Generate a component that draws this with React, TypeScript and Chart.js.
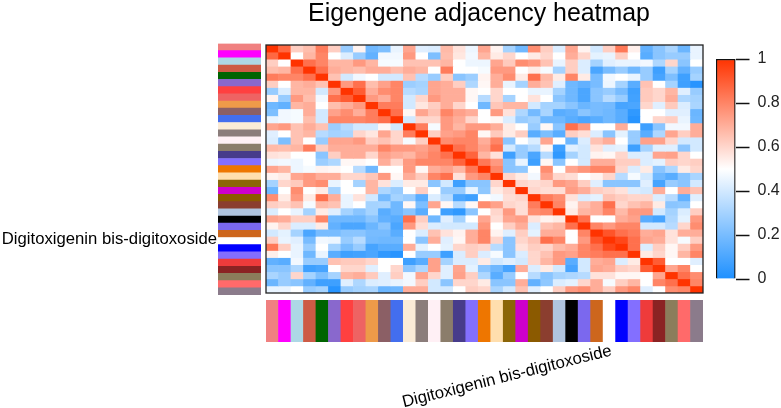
import React, { useEffect, useRef } from "react";
import { Chart, registerables } from "chart.js";

Chart.register(...registerables);

const moduleColors = [
  "#F08080", "#FF00FF", "#ADD8E6", "#CD5B45", "#006400", "#8968CD", "#FF4040",
  "#EE6363", "#EE9A49", "#8B5F65", "#436EEE", "#FAEBD7", "#8B7D7B", "#FFF0F5",
  "#8B7D6B", "#473C8B", "#836FFF", "#EE7600", "#FFDEAD", "#8B6508", "#CD00CD",
  "#8B5A00", "#8B3E2F", "#B0C4DE", "#000000", "#7B68EE", "#CD661D", "#FFFFFF",
  "#0000FF", "#836FFF", "#EE3B3B", "#8B2323", "#8B7D5B", "#FF6A6A", "#8B7B8B",
];
const moduleNames = [
  "lightcoral", "magenta", "lightblue", "coral3", "darkgreen", "mediumpurple3", "brown1",
  "indianred2", "tan2", "pink4", "royalblue2", "antiquewhite", "mistyrose4", "lavenderblush",
  "bisque4", "slateblue4", "slateblue1", "darkorange2", "navajowhite", "darkgoldenrod4", "magenta3",
  "orange4", "coral4", "lightsteelblue", "black", "mediumslateblue", "chocolate3", "Digitoxigenin bis-digitoxoside",
  "blue", "slateblue", "brown2", "brown4", "wheat4", "indianred1", "thistle4",
];
const labeledModule = "Digitoxigenin bis-digitoxoside";
const titleText = "Eigengene adjacency heatmap";
const legendTicks = [0, 0.2, 0.4, 0.6, 0.8, 1];

// Upper triangle of the symmetric adjacency matrix, each row starting on the diagonal.
const adj00 = [1,.87,.62,.66,.82,.62,.27,.53,.18,.21,.45,.72,.43,.42,.67,.57,.46,.72,.53,.3,.18,.78,.62,.42,.72,.53,.40,.62,.83,.54,.15,.24,.31,.17,.45];
const adj01 = [1,.5,.68,.8,.5,.42,.27,.15,.47,.47,.75,.5,.21,.66,.56,.47,.68,.55,.6,.5,.55,.6,.5,.7,.6,.44,.45,.62,.5,.13,.24,.27,.27,.45];
const adj02 = [1,.85,.8,.68,.68,.75,.68,.48,.48,.65,.65,.65,.68,.5,.46,.46,.72,.63,.78,.75,.65,.45,.62,.42,.3,.43,.45,.45,.47,.32,.6,.24,.5];
const adj03 = [1,.85,.7,.68,.66,.7,.7,.66,.7,.68,.5,.82,.5,.5,.48,.75,.75,.5,.55,.48,.3,.62,.42,.1,.2,.27,.18,.27,.07,.3,.15,.27];
const adj04 = [1,.65,.4,.47,.5,.4,.4,.65,.34,.27,.62,.24,.28,.53,.7,.78,.55,.85,.67,.55,.8,.55,.2,.47,.5,.45,.27,.09,.21,.07,.3];
const adj05 = [1,.75,.85,.66,.73,.8,.28,.3,.72,.7,.62,.32,.52,.7,.45,.3,.7,.65,.43,.18,.15,.2,.46,.3,.13,.65,.5,.3,.07,.02];
const adj06 = [1,.9,.7,.78,.8,.34,.31,.72,.7,.7,.52,.5,.6,.5,.5,.45,.45,.3,.18,.1,.24,.27,.2,.07,.63,.6,.68,.43,.27];
const adj07 = [1,.75,.7,.8,.4,.6,.75,.7,.7,.52,.34,.6,.3,.5,.57,.5,.24,.18,.1,.24,.34,.27,.08,.63,.6,.7,.32,.3];
const adj08 = [1,.82,.82,.4,.56,.62,.7,.6,.5,.18,.64,.68,.68,.4,.3,.3,.24,.17,.2,.19,.09,.1,.6,.43,.63,.42,.31];
const adj09 = [1,.85,.52,.72,.65,.8,.73,.7,.5,.75,.57,.32,.19,.31,.13,.15,.24,.2,.18,.13,.04,.5,.5,.43,.43,.17];
const adj10 = [1,.4,.6,.6,.75,.7,.6,.5,.52,.42,.27,.3,.18,.18,.13,.1,.13,.18,.13,.02,.5,.6,.62,.45,.18];
const adj11 = [1,.82,.48,.75,.68,.75,.75,.7,.55,.5,.27,.52,.24,.85,.75,.5,.5,.7,.5,.07,.24,.47,.47,.7];
const adj12 = [1,.62,.73,.75,.8,.52,.63,.55,.62,.13,.21,.13,.62,.58,.42,.24,.44,.27,.13,.32,.72,.62,.7];
const adj13 = [1,.78,.8,.8,.7,.8,.24,.5,.42,.72,.5,.18,.42,.65,.7,.5,.27,.73,.73,.6,.4,.4];
const adj14 = [1,.85,.8,.73,.85,.4,.27,.34,.52,.07,.43,.4,.57,.43,.44,.07,.3,.43,.43,.24,.4];
const adj15 = [1,.88,.68,.57,.07,.27,.1,.34,.04,.3,.4,.53,.52,.6,.42,.42,.72,.73,.6,.5];
const adj16 = [1,.83,.75,.24,.45,.07,.52,.24,.5,.4,.7,.7,.62,.62,.42,.44,.62,.6,.62];
const adj17 = [1,.8,.24,.25,.5,.78,.5,.72,.76,.8,.8,.6,.42,.55,.24,.32,.55,.6];
const adj18 = [1,.6,.55,.47,.73,.6,.58,.5,.53,.6,.34,.48,.4,.18,.13,.24,.31];
const adj19 = [1,.6,.58,.6,.75,.72,.62,.43,.24,.24,.24,.43,.09,.27,.24,.4];
const adj20 = [1,.6,.58,.58,.74,.7,.62,.6,.57,.42,.4,.7,.5,.7,.65];
const adj21 = [1,.82,.78,.57,.42,.44,.65,.62,.6,.6,.42,.34,.15,.43];
const adj22 = [1,.8,.53,.65,.7,.85,.6,.65,.68,.55,.24,.25,.5];
const adj23 = [1,.55,.68,.7,.8,.67,.75,.75,.4,.3,.42,.62];
const adj24 = [1,.85,.5,.5,.7,.73,.13,.09,.32,.44,.75];
const adj25 = [1,.8,.75,.8,.8,.4,.4,.34,.6,.78];
const adj26 = [1,.92,.85,.82,.7,.72,.57,.7,.7];
const adj27 = [1,.95,.85,.72,.7,.57,.48,.62];
const adj28 = [1,.85,.42,.62,.52,.62,.75];
const adj29 = [1,.55,.6,.52,.68,.8];
const adj30 = [1,.9,.5,.5,.43];
const adj31 = [1,.72,.8,.5];
const adj32 = [1,.85,.78];
const adj33 = [1,.8];
const adj34 = [1];
const adjacencyUpper = [
  adj00, adj01, adj02, adj03, adj04, adj05, adj06, adj07, adj08, adj09, adj10, adj11,
  adj12, adj13, adj14, adj15, adj16, adj17, adj18, adj19, adj20, adj21, adj22, adj23,
  adj24, adj25, adj26, adj27, adj28, adj29, adj30, adj31, adj32, adj33, adj34,
];

const FONT = "'Liberation Sans', Arial, sans-serif";
const W = 781;
const H = 408;
const AREA = { left: 266, right: 703, top: 45, bottom: 293 };
const LEFT_STRIP = { left: 218, right: 261, top: 43.5, bottom: 295 };
const BOTTOM_STRIP = { top: 300, bottom: 342 };
const BAR = { left: 716, right: 735.5, top: 59, bottom: 279 };

const BLUE = [30, 144, 255];
const WHITE = [255, 255, 255];
const RED = [255, 51, 0];

function heatColor(v: number): string {
  const from = v < 0.5 ? BLUE : WHITE;
  const to = v < 0.5 ? WHITE : RED;
  const t = v < 0.5 ? v / 0.5 : (v - 0.5) / 0.5;
  const c = from.map((a, i) => Math.round(a + (to[i] - a) * t));
  return `rgb(${c[0]},${c[1]},${c[2]})`;
}

function cell(r: number, c: number): number {
  return r <= c ? adjacencyUpper[r][c - r] : adjacencyUpper[c][r - c];
}

const ones = moduleNames.map(() => 1);

function hiddenAxis(extra: object = {}) {
  return { display: false, grid: { display: false }, ...extra };
}

const basePlugins = { legend: { display: false }, tooltip: { enabled: false } };

function heatmapConfig(): any {
  return {
    type: "bar",
    data: {
      labels: moduleNames,
      datasets: moduleNames.map((name, r) => ({
        label: name,
        data: ones,
        backgroundColor: moduleNames.map((_, c) => heatColor(cell(r, c))),
        borderWidth: 0,
        barPercentage: 1,
        categoryPercentage: 1,
      })),
    },
    options: {
      responsive: false,
      animation: false,
      layout: { padding: { left: AREA.left, right: W - AREA.right, top: AREA.top, bottom: H - AREA.bottom } },
      plugins: basePlugins,
      scales: {
        x: hiddenAxis({ stacked: true }),
        y: hiddenAxis({ stacked: true, reverse: true, min: 0, max: moduleNames.length }),
      },
    },
    plugins: [
      {
        id: "frame",
        afterDraw(chart: any) {
          const { ctx, chartArea: a } = chart;
          ctx.save();
          ctx.strokeStyle = "#222222";
          ctx.lineWidth = 1.3;
          ctx.strokeRect(a.left, a.top, a.right - a.left, a.bottom - a.top);
          ctx.restore();
        },
      },
    ],
  };
}

function leftStripConfig(): any {
  return {
    type: "bar",
    data: {
      labels: moduleNames,
      datasets: [{ data: ones, backgroundColor: moduleColors, borderWidth: 0, barPercentage: 1, categoryPercentage: 1 }],
    },
    options: {
      indexAxis: "y",
      responsive: false,
      animation: false,
      layout: { padding: { left: 0, right: W - LEFT_STRIP.right, top: LEFT_STRIP.top, bottom: H - LEFT_STRIP.bottom } },
      plugins: basePlugins,
      scales: {
        x: hiddenAxis({ min: 0, max: 1 }),
        y: {
          grid: { display: false, drawTicks: false },
          border: { display: false },
          afterFit(scale: any) {
            scale.width = LEFT_STRIP.left;
          },
          ticks: {
            autoSkip: false,
            padding: 1,
            labelOffset: -2,
            color: "#000000",
            font: { family: FONT, size: 16.7 },
            callback(_: any, i: number) {
              return moduleNames[i] === labeledModule ? labeledModule : "";
            },
          },
        },
      },
    },
  };
}

function bottomStripConfig(): any {
  return {
    type: "bar",
    data: {
      labels: moduleNames,
      datasets: [{ data: ones, backgroundColor: moduleColors, borderWidth: 0, barPercentage: 1, categoryPercentage: 1 }],
    },
    options: {
      responsive: false,
      animation: false,
      layout: { padding: { left: AREA.left, right: W - AREA.right, top: BOTTOM_STRIP.top, bottom: 0 } },
      plugins: basePlugins,
      scales: {
        y: hiddenAxis({ min: 0, max: 1 }),
        x: {
          grid: { display: false, drawTicks: false },
          border: { display: false },
          afterFit(scale: any) {
            scale.height = H - BOTTOM_STRIP.bottom;
          },
          ticks: {
            autoSkip: false,
            minRotation: 14,
            maxRotation: 14,
            padding: -1,
            labelOffset: 2,
            color: "#000000",
            font: { family: FONT, size: 16.7 },
            callback(_: any, i: number) {
              return moduleNames[i] === labeledModule ? labeledModule : "";
            },
          },
        },
      },
    },
  };
}

function colorBarConfig(): any {
  return {
    type: "bar",
    data: {
      labels: ["adjacency"],
      datasets: [
        {
          data: [1],
          barPercentage: 1,
          categoryPercentage: 1,
          borderWidth: 1.5,
          borderColor: "#111111",
          backgroundColor(ctx: any) {
            const a = ctx.chart.chartArea;
            if (!a) return "#ffffff";
            const g = ctx.chart.ctx.createLinearGradient(0, a.bottom, 0, a.top);
            g.addColorStop(0, heatColor(0));
            g.addColorStop(0.5, heatColor(0.5));
            g.addColorStop(1, heatColor(1));
            return g;
          },
        },
      ],
    },
    options: {
      responsive: false,
      animation: false,
      layout: { padding: { left: BAR.left, right: 0, top: BAR.top, bottom: H - BAR.bottom } },
      plugins: basePlugins,
      scales: {
        x: hiddenAxis(),
        y: {
          position: "right",
          min: 0,
          max: 1,
          afterFit(scale: any) {
            scale.width = W - BAR.right;
          },
          afterBuildTicks(scale: any) {
            scale.ticks = legendTicks.map((value) => ({ value }));
          },
          grid: { drawOnChartArea: false, drawTicks: true, tickLength: 14, tickColor: "#111111", tickWidth: 1.5 },
          border: { display: false },
          ticks: {
            padding: 8,
            color: "#222222",
            font: { family: FONT, size: 16 },
            callback(v: number) {
              return String(v);
            },
          },
        },
      },
    },
  };
}

const canvasStyle: React.CSSProperties = { position: "absolute", left: 0, top: 0, width: W, height: H };

export default function App() {
  const heatRef = useRef<HTMLCanvasElement>(null);
  const leftRef = useRef<HTMLCanvasElement>(null);
  const bottomRef = useRef<HTMLCanvasElement>(null);
  const barRef = useRef<HTMLCanvasElement>(null);

  useEffect(() => {
    const charts = [
      new Chart(heatRef.current!, heatmapConfig()),
      new Chart(leftRef.current!, leftStripConfig()),
      new Chart(bottomRef.current!, bottomStripConfig()),
      new Chart(barRef.current!, colorBarConfig()),
    ];
    return () => charts.forEach((c) => c.destroy());
  }, []);

  return (
    <div style={{ position: "fixed", left: 0, top: 0, width: W, height: H, overflow: "hidden", background: "#fff" }}>
      <canvas ref={heatRef} width={W} height={H} style={canvasStyle} />
      <canvas ref={leftRef} width={W} height={H} style={canvasStyle} />
      <canvas ref={bottomRef} width={W} height={H} style={canvasStyle} />
      <canvas ref={barRef} width={W} height={H} style={canvasStyle} />
      <div
        style={{
          position: "absolute",
          left: 229,
          width: 500,
          top: 0,
          textAlign: "center",
          fontFamily: FONT,
          fontSize: 24.9,
          lineHeight: "24px",
          color: "#000",
        }}
      >
        {titleText}
      </div>
    </div>
  );
}
